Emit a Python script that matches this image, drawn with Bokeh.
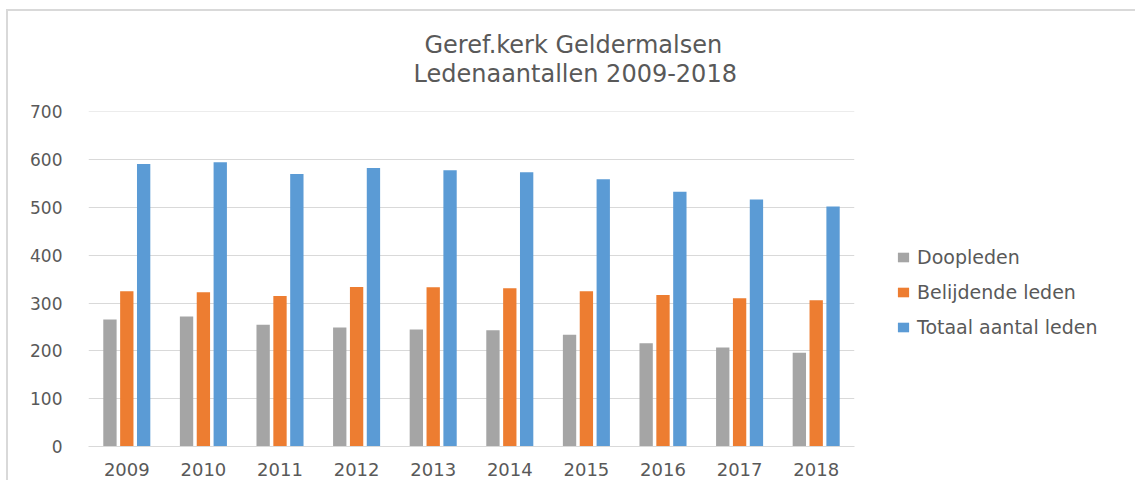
from bokeh.plotting import figure
from bokeh.models import (ColumnDataSource, FactorRange, Legend, LegendItem, Title,
                          Range1d, SingleIntervalTicker)
from bokeh.transform import dodge
from bokeh.embed import file_html
from bokeh.resources import INLINE

# ---- data ----
years = ["2009", "2010", "2011", "2012", "2013", "2014", "2015", "2016", "2017", "2018"]
doopleden = [266, 272, 255, 249, 245, 243, 234, 216, 207, 196]
belijdende_leden = [325, 323, 315, 334, 333, 331, 325, 317, 310, 306]
totaal_leden = [591, 595, 570, 583, 578, 574, 559, 533, 517, 502]
series_names = ["Doopleden", "Belijdende leden", "Totaal aantal leden"]
title_lines = ["Geref.kerk Geldermalsen", "Ledenaantallen 2009-2018"]

colors = ["#a5a5a5", "#ed7d31", "#5b9bd5"]
text_color = "#595959"
font = "DejaVu Sans"

src = ColumnDataSource(dict(year=years, doop=doopleden, bel=belijdende_leden, tot=totaal_leden))

p = figure(x_range=FactorRange(*years), y_range=Range1d(0, 701),
           frame_width=766, frame_height=335, output_backend="svg", toolbar_location=None,
           min_border_left=80, min_border_top=100, min_border_right=0,
           min_border_bottom=34, outline_line_color=None)
p.title = None
p.styles = {"margin-left": "6px", "margin-top": "9px",
            "border-top": "2px solid #d9d9d9", "border-left": "2px solid #d9d9d9"}

bar_w = 0.174
off = 0.22
r1 = p.vbar(x=dodge("year", -off, range=p.x_range), top="doop", width=bar_w, source=src,
            fill_color=colors[0], line_color=None)
r2 = p.vbar(x=dodge("year", 0.0, range=p.x_range), top="bel", width=bar_w, source=src,
            fill_color=colors[1], line_color=None)
r3 = p.vbar(x=dodge("year", off, range=p.x_range), top="tot", width=bar_w, source=src,
            fill_color=colors[2], line_color=None)

# axes
ticker = SingleIntervalTicker(interval=100)
p.yaxis.ticker = ticker
p.ygrid.ticker = ticker
p.yaxis.axis_line_color = None
p.yaxis.major_tick_line_color = None
p.yaxis.minor_tick_line_color = None
p.yaxis.major_label_standoff = 20
p.yaxis.major_label_text_font = font
p.yaxis.major_label_text_font_size = "17px"
p.yaxis.major_label_text_color = text_color

p.xaxis.axis_line_color = "#d9d9d9"
p.xaxis.axis_line_width = 1
p.xaxis.major_tick_line_color = None
p.xaxis.minor_tick_line_color = None
p.xaxis.major_label_standoff = 10
p.xaxis.major_label_text_font = font
p.xaxis.major_label_text_font_size = "18px"
p.xaxis.major_label_text_color = text_color

p.xgrid.grid_line_color = None
p.ygrid.grid_line_color = "#d9d9d9"
p.ygrid.grid_line_width = 1

# title: second line first (closest to the frame), then first line above it
p.add_layout(Title(text=title_lines[1], align="left", offset=325, standoff=48,
                   text_font=font, text_font_size="24px", text_font_style="normal",
                   text_color=text_color), "above")
p.add_layout(Title(text=title_lines[0], align="left", offset=336, standoff=-50,
                   text_font=font, text_font_size="24px", text_font_style="normal",
                   text_color=text_color), "above")

legend = Legend(items=[LegendItem(label=series_names[0], renderers=[r1]),
                       LegendItem(label=series_names[1], renderers=[r2]),
                       LegendItem(label=series_names[2], renderers=[r3])],
                location=(42, 108), margin=0, padding=10, spacing=13,
                glyph_width=14, glyph_height=12, label_height=20, label_standoff=7,
                label_text_font=font, label_text_font_size="19px",
                label_text_color=text_color, border_line_color=None,
                background_fill_alpha=0)
p.add_layout(legend, "right")

open("out.html", "w").write(file_html(p, INLINE))
